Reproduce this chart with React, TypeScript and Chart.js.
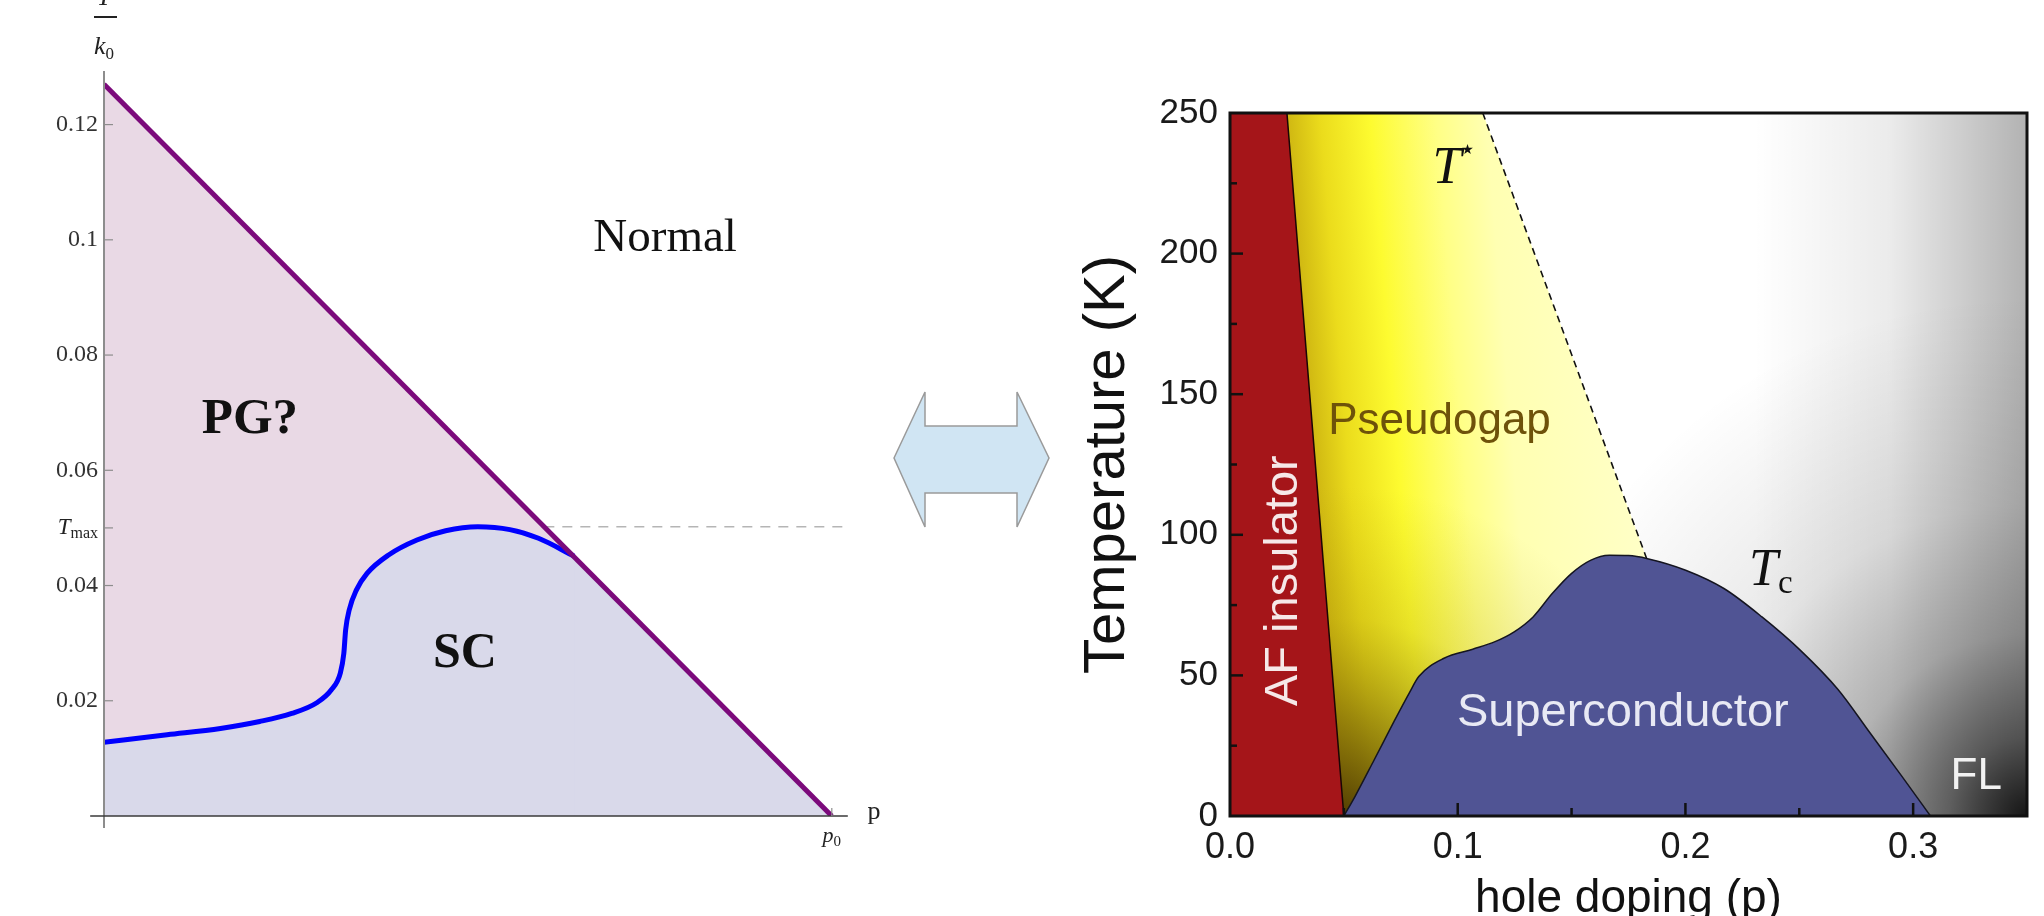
import React, { useEffect, useRef } from 'react';
import { Chart, registerables } from 'chart.js';

Chart.register(...registerables);

// ================= Left panel: model phase diagram (T/k0 vs p) =================
const pgBoundaryP = [0, 1]; // p / p0
const pgBoundaryT = [0.127, 0]; // T / k0
const scBoundaryP = [0, 0.0867, 0.16, 0.214, 0.258, 0.293, 0.3124, 0.3247, 0.3295, 0.332, 0.337, 0.3467, 0.3614, 0.391, 0.43, 0.4694, 0.5136, 0.5577, 0.597, 0.646];
const scBoundaryT = [0.0128, 0.0141, 0.0152, 0.0164, 0.0178, 0.0197, 0.0219, 0.0248, 0.0282, 0.0323, 0.0358, 0.0392, 0.0421, 0.0453, 0.0479, 0.0495, 0.0502, 0.0497, 0.0482, 0.0451];
const tMaxValue = 0.0502;
const tMaxLineP = [0.605, 1.022];
const leftYTickValues = [0.02, 0.04, 0.05, 0.06, 0.08, 0.1, 0.12];
const leftYTickLabels = ['0.02', '0.04', '', '0.06', '0.08', '0.1', '0.12'];

// ================= Right panel: cuprate phase diagram =================
const afBoundaryP = [0, 0.025, 0.05];
const afBoundaryT = [250, 250, 0];
const pgRegionP = [0.025, 0.111, 0.183];
const pgRegionT = [250, 250, 91.5];
const tStarP = [0.111, 0.183];
const tStarT = [250, 91.5];
const domeP = [0.05, 0.055, 0.0634, 0.0717, 0.0787, 0.0829, 0.094, 0.1066, 0.1164, 0.1248, 0.1331, 0.1415, 0.1499, 0.1583, 0.1666, 0.175, 0.1834, 0.2001, 0.2169, 0.2336, 0.2504, 0.2671, 0.2811, 0.295, 0.3076];
const domeT = [0, 7.1, 20.1, 33.1, 43.7, 49.6, 56.1, 59.3, 62, 65.5, 70.8, 79.1, 86.2, 90.9, 92.7, 92.6, 91.5, 87.4, 80.9, 70.8, 59, 44.9, 29.5, 14.2, 0];
const rightXTickValues = [0, 0.1, 0.2, 0.3];
const rightXTickLabels = ['0.0', '0.1', '0.2', '0.3'];
const rightXMinorTicks = [0.05, 0.15, 0.25];
const rightYTickValues = [0, 50, 100, 150, 200, 250];
const rightYMinorTicks = [25, 75, 125, 175, 225];

const SERIF = '"Liberation Serif", "Times New Roman", serif';
const SANS = '"Liberation Sans", Arial, Helvetica, sans-serif';

const toPts = (xs: number[], ys: number[]) => xs.map((x, i) => ({ x, y: ys[i] }));

type Run = { text: string; font: string; dy?: number };
function drawRuns(ctx: CanvasRenderingContext2D, runs: Run[], x: number, y: number, align: 'left' | 'center' | 'right') {
  let total = 0;
  const widths = runs.map((r) => {
    ctx.font = r.font;
    const w = ctx.measureText(r.text).width;
    total += w;
    return w;
  });
  let cx = align === 'center' ? x - total / 2 : align === 'right' ? x - total : x;
  ctx.textAlign = 'left';
  ctx.textBaseline = 'alphabetic';
  runs.forEach((r, i) => {
    ctx.font = r.font;
    ctx.fillText(r.text, cx, y + (r.dy || 0));
    cx += widths[i];
  });
}

const leftDecor = {
  id: 'leftDecor',
  afterDatasetsDraw(chart: any) {
    const { ctx, scales } = chart;
    const xs = scales.x;
    const ys = scales.y;
    const x0 = xs.getPixelForValue(0);
    const y0 = ys.getPixelForValue(0);
    ctx.save();
    // y axis
    ctx.strokeStyle = '#8d8d8d';
    ctx.lineWidth = 2;
    ctx.beginPath();
    ctx.moveTo(x0, ys.getPixelForValue(0.1293));
    ctx.lineTo(x0, ys.getPixelForValue(-0.0021));
    ctx.stroke();
    // y ticks (inward)
    ctx.lineWidth = 1.2;
    leftYTickValues.forEach((v) => {
      const yy = ys.getPixelForValue(v);
      ctx.beginPath();
      ctx.moveTo(x0, yy);
      ctx.lineTo(x0 + 9, yy);
      ctx.stroke();
    });
    // x axis
    ctx.strokeStyle = '#3a3a3a';
    ctx.lineWidth = 1.5;
    ctx.beginPath();
    ctx.moveTo(xs.getPixelForValue(-0.019), y0);
    ctx.lineTo(xs.getPixelForValue(1.022), y0);
    ctx.stroke();
    ctx.strokeStyle = '#8d8d8d';
    ctx.lineWidth = 1.2;
    ctx.beginPath();
    ctx.moveTo(xs.getPixelForValue(1), y0);
    ctx.lineTo(xs.getPixelForValue(1), y0 - 8);
    ctx.stroke();

    ctx.fillStyle = '#222';
    // T_max tick label
    const ty = ys.getPixelForValue(tMaxValue);
    drawRuns(ctx, [
      { text: 'T', font: `italic 23px ${SERIF}` },
      { text: 'max', font: `16px ${SERIF}`, dy: 4 },
    ], x0 - 6, ty + 7, 'right');
    // axis label T / k0
    drawRuns(ctx, [{ text: 'T', font: `italic 26px ${SERIF}` }], x0, 5, 'center');
    ctx.fillRect(x0 - 10, 16, 23, 2);
    drawRuns(ctx, [
      { text: 'k', font: `italic 26px ${SERIF}` },
      { text: '0', font: `17px ${SERIF}`, dy: 5 },
    ], x0, 54, 'center');
    // p0 and p
    drawRuns(ctx, [
      { text: 'p', font: `italic 22px ${SERIF}` },
      { text: '0', font: `15px ${SERIF}`, dy: 4 },
    ], xs.getPixelForValue(1), y0 + 26, 'center');
    drawRuns(ctx, [{ text: 'p', font: `26px ${SERIF}` }], xs.getPixelForValue(1.058), y0 + 3, 'center');
    // region labels
    ctx.fillStyle = '#111';
    ctx.textAlign = 'center';
    ctx.textBaseline = 'middle';
    ctx.font = `47px ${SERIF}`;
    ctx.fillText('Normal', xs.getPixelForValue(0.771), ys.getPixelForValue(0.1002));
    ctx.font = `bold 51px ${SERIF}`;
    ctx.fillText('PG?', xs.getPixelForValue(0.2005), ys.getPixelForValue(0.0688));
    ctx.font = `bold 50px ${SERIF}`;
    ctx.fillText('SC', xs.getPixelForValue(0.496), ys.getPixelForValue(0.0281));
    ctx.restore();
  },
};

const rightBackground = {
  id: 'rightBackground',
  beforeDraw(chart: any) {
    const { ctx, chartArea, scales } = chart;
    if (!chartArea) return;
    const { left, top, right, bottom } = chartArea;
    const w = right - left;
    const h = bottom - top;
    ctx.save();
    ctx.fillStyle = '#ffffff';
    ctx.fillRect(left, top, w, h);
    const g1 = ctx.createLinearGradient(scales.x.getPixelForValue(0.23), 0, right, 0);
    g1.addColorStop(0, 'rgba(0,0,0,0)');
    g1.addColorStop(0.5, 'rgba(0,0,0,0.08)');
    g1.addColorStop(1, 'rgba(0,0,0,0.3)');
    ctx.fillStyle = g1;
    ctx.fillRect(left, top, w, h);
    const g2 = ctx.createRadialGradient(right, bottom, 0, right, bottom, 520);
    g2.addColorStop(0, 'rgba(0,0,0,0.88)');
    g2.addColorStop(0.15, 'rgba(0,0,0,0.55)');
    g2.addColorStop(0.35, 'rgba(0,0,0,0.25)');
    g2.addColorStop(0.6, 'rgba(0,0,0,0.09)');
    g2.addColorStop(1, 'rgba(0,0,0,0)');
    ctx.fillStyle = g2;
    ctx.fillRect(left, top, w, h);
    ctx.restore();
  },
};

const rightDecor = {
  id: 'rightDecor',
  afterDatasetsDraw(chart: any) {
    const { ctx, chartArea, scales } = chart;
    const xs = scales.x;
    const ys = scales.y;
    const { left, top, right, bottom } = chartArea;
    ctx.save();
    ctx.strokeStyle = '#111';
    ctx.lineWidth = 2.5;
    rightXTickValues.slice(1).forEach((v) => {
      const x = xs.getPixelForValue(v);
      ctx.beginPath();
      ctx.moveTo(x, bottom);
      ctx.lineTo(x, bottom - 13);
      ctx.stroke();
    });
    rightXMinorTicks.forEach((v) => {
      const x = xs.getPixelForValue(v);
      ctx.beginPath();
      ctx.moveTo(x, bottom);
      ctx.lineTo(x, bottom - 8);
      ctx.stroke();
    });
    rightYTickValues.slice(1, -1).forEach((v) => {
      const y = ys.getPixelForValue(v);
      ctx.beginPath();
      ctx.moveTo(left, y);
      ctx.lineTo(left + 13, y);
      ctx.stroke();
    });
    rightYMinorTicks.forEach((v) => {
      const y = ys.getPixelForValue(v);
      ctx.beginPath();
      ctx.moveTo(left, y);
      ctx.lineTo(left + 7, y);
      ctx.stroke();
    });
    ctx.lineWidth = 3;
    ctx.strokeRect(left, top, right - left, bottom - top);

    // labels
    ctx.textAlign = 'center';
    ctx.textBaseline = 'middle';
    ctx.save();
    ctx.translate(xs.getPixelForValue(0.0238), ys.getPixelForValue(83.7));
    ctx.rotate(-Math.PI / 2);
    ctx.fillStyle = '#f6e8e8';
    ctx.font = `47px ${SANS}`;
    ctx.fillText('AF insulator', 0, 0);
    ctx.restore();
    ctx.fillStyle = '#6e520a';
    ctx.font = `44px ${SANS}`;
    ctx.fillText('Pseudogap', xs.getPixelForValue(0.092), ys.getPixelForValue(140));
    ctx.fillStyle = '#e8e9f4';
    ctx.font = `47px ${SANS}`;
    ctx.fillText('Superconductor', xs.getPixelForValue(0.1725), ys.getPixelForValue(36.5));
    ctx.fillStyle = '#f2f2f2';
    ctx.font = `44px ${SANS}`;
    ctx.fillText('FL', xs.getPixelForValue(0.3277), ys.getPixelForValue(13.8));
    ctx.fillStyle = '#111';
    drawRuns(ctx, [
      { text: 'T', font: `italic 52px ${SERIF}` },
      { text: '\u2605', font: `14px "DejaVu Sans", ${SANS}`, dy: -29 },
    ], xs.getPixelForValue(0.098), ys.getPixelForValue(225), 'center');
    drawRuns(ctx, [
      { text: 'T', font: `italic 52px ${SERIF}` },
      { text: 'c', font: `33px ${SERIF}`, dy: 8 },
    ], xs.getPixelForValue(0.2375), ys.getPixelForValue(82.1), 'center');
    ctx.restore();
  },
};

function pgGradient(c: any) {
  const ch = c.chart;
  const { chartArea, scales, ctx } = ch;
  if (!chartArea) return '#ffff60';
  const xs = scales.x;
  const ys = scales.y;
  const ax = xs.getPixelForValue(afBoundaryP[1]);
  const ay = ys.getPixelForValue(afBoundaryT[1]);
  const bx = xs.getPixelForValue(afBoundaryP[2]);
  const by = ys.getPixelForValue(afBoundaryT[2]);
  let nx = by - ay;
  let ny = -(bx - ax);
  const len = Math.hypot(nx, ny);
  nx /= len;
  ny /= len;
  const L = 330;
  const g = ctx.createLinearGradient(ax, ay, ax + nx * L, ay + ny * L);
  g.addColorStop(0, '#d0b812');
  g.addColorStop(0.1, '#ebdc1c');
  g.addColorStop(0.25, '#fdfb30');
  g.addColorStop(0.45, '#ffff86');
  g.addColorStop(0.6, '#ffffb2');
  g.addColorStop(1, '#ffffc8');
  return g;
}

function pgShade(c: any) {
  const ch = c.chart;
  const { chartArea, scales, ctx } = ch;
  if (!chartArea) return 'rgba(0,0,0,0)';
  const cx = scales.x.getPixelForValue(afBoundaryP[2]);
  const cy = scales.y.getPixelForValue(afBoundaryT[2]);
  const g = ctx.createRadialGradient(cx, cy, 0, cx, cy, 330);
  g.addColorStop(0, 'rgba(60,40,0,0.85)');
  g.addColorStop(0.3, 'rgba(90,70,0,0.5)');
  g.addColorStop(0.6, 'rgba(140,120,0,0.18)');
  g.addColorStop(1, 'rgba(160,140,0,0)');
  return g;
}

const NONE = 'rgba(0,0,0,0)';

function leftConfig(): any {
  const n = scBoundaryP.length;
  return {
    type: 'line',
    data: {
      datasets: [
        { label: 'PG boundary', data: toPts(pgBoundaryP, pgBoundaryT), borderColor: '#7b0a7b', borderWidth: 5, fill: false, pointRadius: 0, tension: 0, order: 1 },
        { label: 'Tc', data: toPts(scBoundaryP, scBoundaryT), borderColor: '#0000ff', borderWidth: 5, backgroundColor: '#d9d9ea', fill: 'origin', pointRadius: 0, cubicInterpolationMode: 'monotone', order: 2 },
        { label: 'SC tail', data: [...toPts(scBoundaryP.slice(n - 2), scBoundaryT.slice(n - 2)), { x: pgBoundaryP[1], y: pgBoundaryT[1] }], borderColor: NONE, borderWidth: 0, backgroundColor: '#d9d9ea', fill: 'origin', pointRadius: 0, tension: 0, order: 3 },
        { label: 'Tmax', data: tMaxLineP.map((p) => ({ x: p, y: tMaxValue })), borderColor: '#b5b5b5', borderWidth: 1.5, borderDash: [10, 8], fill: false, pointRadius: 0, order: 4, clip: false },
        { label: 'PG', data: toPts(pgBoundaryP, pgBoundaryT), borderColor: NONE, borderWidth: 0, backgroundColor: '#e9d9e5', fill: 'origin', pointRadius: 0, tension: 0, order: 5 },
      ],
    },
    options: {
      animation: false,
      responsive: false,
      devicePixelRatio: 1,
      events: [],
      layout: { padding: { top: 71, right: 50, left: 0, bottom: 0 } },
      plugins: { legend: { display: false }, tooltip: { enabled: false } },
      scales: {
        x: {
          type: 'linear', min: 0, max: 1.025,
          grid: { display: false, drawTicks: false }, border: { display: false },
          ticks: { display: false },
          afterFit: (s: any) => { s.height = 100; },
        },
        y: {
          type: 'linear', min: 0, max: 0.1293,
          grid: { display: false, drawTicks: false }, border: { display: false },
          afterBuildTicks: (s: any) => { s.ticks = leftYTickValues.map((v) => ({ value: v })); },
          ticks: {
            autoSkip: false, padding: 6, color: '#333',
            font: { family: SERIF, size: 24 },
            callback: (_v: any, i: number) => leftYTickLabels[i],
          },
          afterFit: (s: any) => { s.width = 104; },
        },
      },
    },
    plugins: [leftDecor],
  };
}

function rightConfig(): any {
  return {
    type: 'line',
    data: {
      datasets: [
        { label: 'Superconductor', data: toPts(domeP, domeT), borderColor: '#151520', borderWidth: 1.5, backgroundColor: '#505494', fill: 'origin', pointRadius: 0, cubicInterpolationMode: 'monotone', order: 6 },
        { label: 'AF insulator', data: toPts(afBoundaryP, afBoundaryT), borderColor: '#1a0505', borderWidth: 1.5, backgroundColor: '#a51519', fill: 'origin', pointRadius: 0, tension: 0, order: 7 },
        { label: 'T*', data: toPts(tStarP, tStarT), borderColor: '#111', borderWidth: 1.6, borderDash: [7, 5], fill: false, pointRadius: 0, tension: 0, order: 8 },
        { label: 'PG shade', data: toPts(pgRegionP, pgRegionT), borderColor: NONE, borderWidth: 0, backgroundColor: pgShade, fill: 'origin', pointRadius: 0, tension: 0, order: 9 },
        { label: 'Pseudogap', data: toPts(pgRegionP, pgRegionT), borderColor: NONE, borderWidth: 0, backgroundColor: pgGradient, fill: 'origin', pointRadius: 0, tension: 0, order: 10 },
      ],
    },
    options: {
      animation: false,
      responsive: false,
      devicePixelRatio: 1,
      events: [],
      layout: { padding: { top: 113, right: 17, left: 0, bottom: 0 } },
      plugins: { legend: { display: false }, tooltip: { enabled: false } },
      scales: {
        x: {
          type: 'linear', min: 0, max: 0.35,
          grid: { display: false, drawTicks: false }, border: { display: false },
          afterBuildTicks: (s: any) => { s.ticks = rightXTickValues.map((v) => ({ value: v })); },
          ticks: {
            autoSkip: false, maxRotation: 0, padding: 10, color: '#1a1a1a',
            font: { family: SANS, size: 36 },
            callback: (_v: any, i: number) => rightXTickLabels[i],
          },
          title: { display: true, text: 'hole doping (p)', color: '#111', font: { family: SANS, size: 46, lineHeight: 1 }, padding: { top: 0, bottom: -6 } },
          afterFit: (s: any) => { s.height = 100; },
        },
        y: {
          type: 'linear', min: 0, max: 250,
          grid: { display: false, drawTicks: false }, border: { display: false },
          afterBuildTicks: (s: any) => { s.ticks = rightYTickValues.map((v) => ({ value: v })); },
          ticks: {
            autoSkip: false, padding: 12, color: '#1a1a1a',
            font: { family: SANS, size: 35 },
          },
          title: { display: true, text: 'Temperature (K)', color: '#111', font: { family: SANS, size: 58, lineHeight: 1 }, padding: { top: 19, bottom: 0 } },
          afterFit: (s: any) => { s.width = 170; },
        },
      },
    },
    plugins: [rightBackground, rightDecor],
  };
}

export default function App() {
  const leftRef = useRef<HTMLCanvasElement>(null);
  const rightRef = useRef<HTMLCanvasElement>(null);
  useEffect(() => {
    const l = new Chart(leftRef.current as HTMLCanvasElement, leftConfig());
    const r = new Chart(rightRef.current as HTMLCanvasElement, rightConfig());
    return () => {
      l.destroy();
      r.destroy();
    };
  }, []);
  return (
    <div style={{ position: 'fixed', left: 0, top: 0, width: 2044, height: 916, background: '#fff', overflow: 'hidden' }}>
      <canvas ref={leftRef} width={900} height={916} style={{ position: 'absolute', left: 0, top: 0, width: 900, height: 916 }} />
      <canvas ref={rightRef} width={984} height={916} style={{ position: 'absolute', left: 1060, top: 0, width: 984, height: 916 }} />
      <svg width={2044} height={916} style={{ position: 'absolute', left: 0, top: 0, pointerEvents: 'none' }}>
        <polygon
          points="894,458 925,392 925,426 1017,426 1017,392 1049,458 1017,527 1017,493 925,493 925,527"
          fill="#d0e5f3"
          stroke="#9a9a9a"
          strokeWidth={1.5}
        />
      </svg>
    </div>
  );
}
